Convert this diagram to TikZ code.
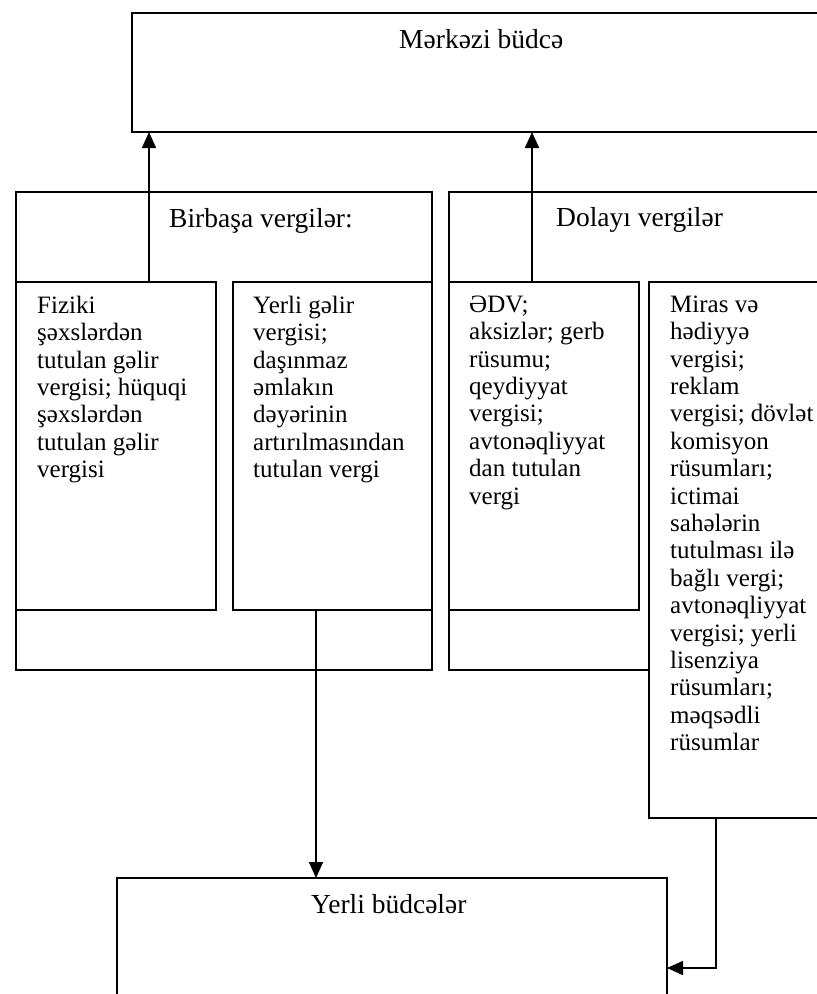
\documentclass[tikz,border=0pt]{standalone}
\usepackage{fontspec}
\setmainfont{Liberation Serif}
\usetikzlibrary{arrows.meta}

\tikzset{
  frame/.style={draw, line width=1.6pt, inner sep=0pt, outer sep=0pt, anchor=north west},
  head/.style={font=\fontsize{27.5}{30}\selectfont, inner sep=0pt, anchor=base west},
  body/.style={font=\fontsize{25}{27.4}\selectfont, align=left, inner sep=0pt, anchor=north west},
  arr/.style={line width=1.6pt, -{Triangle[length=16pt,width=14pt]}}
}
% strut fixing the height of the first line above its baseline
\newcommand{\firststrut}{\rule{0pt}{20pt}}

\begin{document}
\begin{tikzpicture}[x=1pt, y=-1pt]
  \useasboundingbox (0,0) rectangle (817,994);
  \fill[white] (0,0) rectangle (817,994);
  \clip (0,0) rectangle (817,994);

  % outer frames
  \node[frame, minimum width=703pt, minimum height=119pt] (merkezi) at (132,13) {};
  \node[frame, minimum width=416pt, minimum height=478pt] (birbasa) at (16,192) {};
  \node[frame, minimum width=386pt, minimum height=478pt] (dolayi) at (449,192) {};

  % inner boxes
  \node[frame, minimum width=200pt, minimum height=328pt] (fiziki) at (16,282) {};
  \node[frame, minimum width=199pt, minimum height=328pt] (yerli) at (233,282) {};
  \node[frame, minimum width=190pt, minimum height=328pt] (edv) at (449,282) {};
  \node[frame, fill=white, minimum width=186pt, minimum height=536pt] (miras) at (649,282) {};

  % local budgets
  \node[frame, minimum width=550pt, minimum height=140pt] (yerlib) at (117,878) {};

  % headings
  \node[head] (tmerkezi) at (399,48) {Mərkəzi büdcə};
  \node[head] (tbirbasa) at (169,227) {Birbaşa vergilər:};
  \node[head] (tdolayi) at (556,226) {Dolayı vergilər};
  \node[head] (tyerlib) at (311,913) {Yerli büdcələr};

  % box texts
  \node[body] (tfiziki) at (37,293) {\firststrut Fiziki\\şəxslərdən\\tutulan gəlir\\vergisi; hüquqi\\şəxslərdən\\tutulan gəlir\\vergisi};
  \node[body] (tyerli) at (253,293) {\firststrut Yerli gəlir\\vergisi;\\daşınmaz\\əmlakın\\dəyərinin\\artırılmasından\\tutulan vergi};
  \node[body] (tedv) at (469,292) {\firststrut ƏDV;\\aksizlər; gerb\\rüsumu;\\qeydiyyat\\vergisi;\\avtonəqliyyat\\dan tutulan\\vergi};
  \node[body] (tmiras) at (670,292) {\firststrut Miras və\\hədiyyə\\vergisi;\\reklam\\vergisi; dövlət\\komisyon\\rüsumları;\\ictimai\\sahələrin\\tutulması ilə\\bağlı vergi;\\avtonəqliyyat\\vergisi; yerli\\lisenziya\\rüsumları;\\məqsədli\\rüsumlar};

  % connectors
  \draw[arr] ([xshift=133pt]fiziki.north west) -- ([xshift=133pt]fiziki.north west |- merkezi.south);
  \draw[arr] ([xshift=83pt]edv.north west) -- ([xshift=83pt]edv.north west |- merkezi.south);
  \draw[arr] ([xshift=83pt]yerli.south west) -- ([xshift=83pt]yerli.south west |- yerlib.north);
  \draw[arr] ([xshift=67pt]miras.south west) |- ([yshift=-90pt]yerlib.north east);
\end{tikzpicture}
\end{document}
